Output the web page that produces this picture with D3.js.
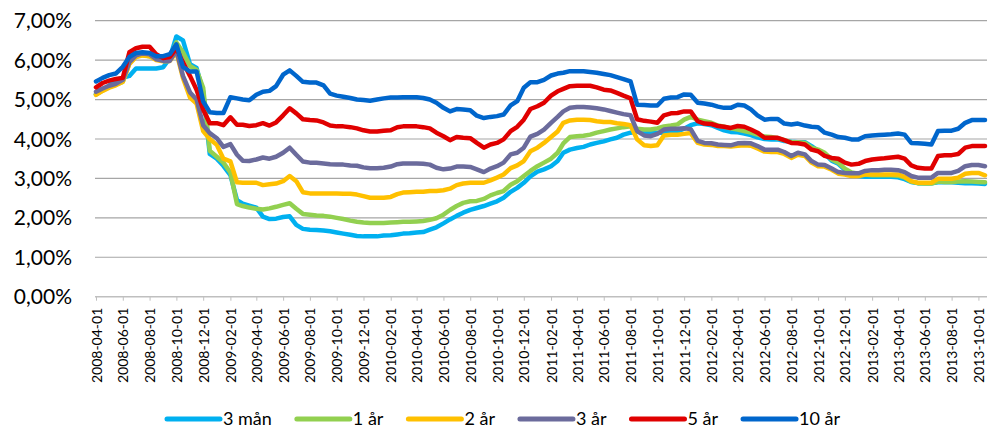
<!DOCTYPE html>
<html><head><meta charset="utf-8">
<script src="https://cdn.jsdelivr.net/npm/d3@7"></script>
<style>
html,body{margin:0;padding:0;background:#fff;}
svg{display:block;font-family:Lato,"Open Sans",sans-serif;}
</style></head>
<body>
<svg id="chart" width="988" height="431"></svg>
<script>
// Categories: half-monthly observation dates (1st and 16th of each month), 2008-04-01 .. 2013-10-16
const nPoints = 134;
const dates = d3.range(nPoints).map(i => new Date(Date.UTC(2008, 3 + Math.floor(i / 2), i % 2 ? 16 : 1)));

// Tick labels on the x axis (every second month)
const tickDates = d3.utcMonth.range(new Date(Date.UTC(2008, 3, 1)), new Date(Date.UTC(2013, 10, 1)), 2);
const yTicks = [0, 1, 2, 3, 4, 5, 6, 7];

const seriesNames = ["3 mån", "1 år", "2 år", "3 år", "5 år", "10 år"];

// Series values (%)
const tre_man = [
 5.13,5.25,5.35,5.50,5.55,5.60,5.79,5.79,5.79,5.79,5.82,6.05,6.60,
 6.50,5.90,5.80,5.20,3.62,3.50,3.32,3.08,2.45,
 2.36,2.31,2.26,2.03,1.97,1.98,2.02,2.04,1.82,1.72,1.70,1.69,1.68,1.66,1.63,1.60,1.57,1.54,1.53,1.53,1.53,1.55,1.56,
 1.58,1.60,1.61,1.63,1.64,1.70,1.76,1.86,1.96,2.05,2.13,2.20,2.25,2.30,2.36,2.42,2.51,2.66,2.76,2.89,3.05,3.17,
 3.23,3.31,3.44,3.65,3.73,3.77,3.80,3.86,3.90,3.94,3.99,4.03,4.11,4.16,4.19,4.16,4.16,4.16,4.16,4.17,4.19,4.26,
 4.35,4.40,4.38,4.35,4.28,4.22,4.18,4.17,4.14,4.10,4.04,4.00,3.99,3.99,3.95,3.93,3.92,3.92,3.82,3.70,3.62,3.45,3.37,
 3.22,3.12,3.06,3.04,3.04,3.04,3.04,3.04,3.03,2.98,2.91,2.88,2.88,2.88,2.90,2.90,2.90,2.89,2.88,2.88,2.87,2.86];
const ett_ar = [
 5.13,5.23,5.32,5.38,5.45,5.92,6.10,6.13,6.10,6.02,6.00,6.05,6.45,
 6.20,5.85,5.75,5.30,3.70,3.55,3.40,3.15,2.35,
 2.30,2.26,2.23,2.21,2.24,2.28,2.33,2.37,2.23,2.10,2.08,2.06,2.05,2.03,2.00,1.97,1.93,1.90,1.88,1.87,1.87,1.87,1.88,
 1.89,1.90,1.90,1.91,1.92,1.95,1.99,2.08,2.20,2.30,2.38,2.42,2.43,2.48,2.57,2.63,2.68,2.84,2.93,3.06,3.19,3.31,
 3.40,3.50,3.65,3.89,4.05,4.07,4.08,4.11,4.16,4.20,4.24,4.27,4.30,4.32,4.26,4.24,4.24,4.27,4.32,4.34,4.37,4.49,
 4.56,4.49,4.45,4.41,4.34,4.31,4.27,4.24,4.20,4.16,4.11,4.06,4.05,4.02,3.97,3.92,3.92,3.90,3.78,3.73,3.65,3.48,3.40,
 3.25,3.15,3.12,3.10,3.08,3.08,3.08,3.08,3.07,3.02,2.92,2.88,2.87,2.87,2.92,2.91,2.91,2.92,2.93,2.92,2.91,2.90];
const tva_ar = [
 5.12,5.22,5.30,5.36,5.45,5.90,6.08,6.12,6.10,6.00,5.97,5.98,6.20,
 5.55,5.05,4.90,4.20,4.00,3.85,3.50,3.43,2.90,
 2.89,2.89,2.89,2.83,2.85,2.87,2.93,3.06,2.93,2.65,2.62,2.62,2.62,2.62,2.62,2.61,2.61,2.59,2.55,2.51,2.51,2.51,2.53,
 2.60,2.64,2.65,2.66,2.66,2.68,2.68,2.70,2.74,2.83,2.87,2.89,2.89,2.89,2.95,3.02,3.10,3.26,3.33,3.44,3.69,3.78,
 3.90,4.05,4.19,4.41,4.47,4.49,4.49,4.48,4.45,4.43,4.43,4.40,4.38,4.35,3.99,3.84,3.82,3.84,4.09,4.11,4.11,4.13,
 4.15,3.90,3.86,3.85,3.82,3.82,3.81,3.83,3.84,3.83,3.76,3.68,3.67,3.67,3.62,3.52,3.60,3.57,3.40,3.31,3.30,3.22,3.12,
 3.10,3.06,3.06,3.10,3.10,3.10,3.10,3.10,3.10,3.04,2.93,2.89,2.89,2.89,2.99,2.99,2.99,3.02,3.12,3.14,3.14,3.08];
const tre_ar = [
 5.20,5.28,5.35,5.40,5.50,5.95,6.12,6.17,6.15,6.02,5.98,5.98,6.25,
 5.60,5.18,5.00,4.35,4.15,4.02,3.80,3.87,3.60,
 3.45,3.44,3.48,3.53,3.50,3.55,3.65,3.78,3.60,3.43,3.40,3.40,3.38,3.36,3.35,3.35,3.33,3.32,3.28,3.26,3.26,3.27,3.30,
 3.36,3.38,3.38,3.38,3.37,3.35,3.27,3.23,3.25,3.30,3.30,3.29,3.23,3.16,3.25,3.31,3.40,3.61,3.65,3.78,4.06,4.13,
 4.24,4.41,4.56,4.70,4.79,4.81,4.81,4.80,4.78,4.75,4.71,4.67,4.63,4.60,4.20,4.09,4.07,4.13,4.24,4.26,4.26,4.27,
 4.25,3.95,3.90,3.89,3.86,3.85,3.84,3.89,3.90,3.89,3.82,3.73,3.73,3.73,3.67,3.57,3.65,3.61,3.44,3.35,3.34,3.25,3.16,
 3.14,3.13,3.13,3.19,3.21,3.21,3.22,3.22,3.21,3.16,3.06,3.02,3.02,3.02,3.14,3.14,3.14,3.19,3.31,3.34,3.34,3.31];
const fem_ar = [
 5.31,5.42,5.48,5.52,5.55,6.20,6.30,6.34,6.34,6.15,6.05,6.08,6.30,
 5.95,5.60,5.25,4.75,4.40,4.40,4.35,4.55,4.36,
 4.36,4.33,4.35,4.40,4.34,4.42,4.60,4.78,4.65,4.50,4.48,4.47,4.42,4.34,4.32,4.32,4.30,4.27,4.22,4.19,4.19,4.21,4.22,
 4.30,4.32,4.32,4.32,4.30,4.27,4.16,4.07,3.97,4.05,4.03,4.02,3.90,3.78,3.86,3.90,3.99,4.20,4.31,4.49,4.76,4.83,
 4.92,5.10,5.21,5.27,5.34,5.35,5.35,5.35,5.31,5.25,5.23,5.17,5.10,5.03,4.50,4.46,4.44,4.41,4.60,4.65,4.66,4.70,
 4.70,4.45,4.39,4.38,4.33,4.31,4.28,4.33,4.31,4.24,4.16,4.03,4.03,4.03,3.97,3.90,3.89,3.86,3.73,3.69,3.57,3.52,3.50,
 3.40,3.35,3.37,3.44,3.48,3.50,3.51,3.53,3.55,3.50,3.33,3.27,3.25,3.25,3.57,3.59,3.59,3.62,3.78,3.82,3.82,3.82];
const tio_ar = [
 5.46,5.55,5.62,5.66,5.83,6.08,6.18,6.20,6.18,6.10,6.10,6.15,6.40,
 5.83,5.71,5.71,4.95,4.68,4.66,4.66,5.06,5.03,
 5.00,4.98,5.12,5.20,5.22,5.34,5.63,5.74,5.60,5.45,5.43,5.43,5.36,5.15,5.10,5.07,5.04,5.00,4.99,4.97,5.00,5.03,5.05,
 5.05,5.06,5.06,5.06,5.04,5.00,4.92,4.79,4.70,4.76,4.75,4.73,4.59,4.53,4.56,4.58,4.62,4.85,4.96,5.30,5.44,5.44,
 5.50,5.61,5.66,5.68,5.72,5.72,5.72,5.70,5.68,5.65,5.62,5.57,5.52,5.46,4.87,4.86,4.85,4.85,5.02,5.05,5.06,5.13,
 5.12,4.92,4.90,4.87,4.82,4.79,4.79,4.87,4.85,4.75,4.60,4.49,4.51,4.51,4.39,4.37,4.39,4.34,4.31,4.30,4.16,4.11,4.05,
 4.03,3.99,3.99,4.07,4.09,4.10,4.11,4.12,4.14,4.11,3.90,3.89,3.88,3.86,4.20,4.21,4.21,4.26,4.41,4.48,4.48,4.48];

const seriesValues = [tre_man, ett_ar, tva_ar, tre_ar, fem_ar, tio_ar];
const colors = ["#00B0F0", "#92D050", "#FFC000", "#6B6B9C", "#E00000", "#0066CC"];

const svg = d3.select("#chart");
const plotL = 95, plotR = 987;

const x = d3.scaleUtc()
  .domain([dates[0], dates[dates.length - 1]])
  .range([96, 985]);
const y = d3.scaleLinear().domain([0, 7]).range([296.7, 20.7]);

// gridlines
svg.append("g").selectAll("line").data(yTicks.filter(d => d > 0)).join("line")
  .attr("x1", plotL).attr("x2", plotR)
  .attr("y1", d => y(d)).attr("y2", d => y(d))
  .attr("stroke", "#a6a6a6").attr("stroke-width", 1.2);

// y axis labels
const fmt = v => v.toFixed(2).replace(".", ",") + "%";
svg.append("g").selectAll("text").data(yTicks).join("text")
  .attr("x", 72).attr("y", d => y(d))
  .attr("dy", "0.36em")
  .attr("text-anchor", "end")
  .attr("font-size", 21)
  .attr("fill", "#000")
  .text(fmt);

// x axis
const xAxis = d3.axisBottom(x).tickValues(tickDates).tickSize(4).tickFormat(d3.utcFormat("%Y-%m-%d"));
const gx = svg.append("g").attr("transform", `translate(0,${y(0)})`).call(xAxis);
gx.select(".domain").remove();
gx.append("line").attr("x1", plotL).attr("x2", plotR).attr("y1", 0).attr("y2", 0)
  .attr("stroke", "#bfbfbf").attr("stroke-width", 1.6);
gx.selectAll(".tick line").attr("stroke", "#bfbfbf");
gx.selectAll(".tick text")
  .attr("font-family", "Lato, sans-serif")
  .attr("font-size", 14)
  .attr("fill", "#000")
  .attr("transform", "rotate(-90)")
  .attr("text-anchor", "end")
  .attr("x", -11).attr("y", 0).attr("dy", "0.36em");

// lines
const line = d3.line().x((d, i) => x(dates[i])).y(d => y(d));
svg.append("g").selectAll("path").data(seriesValues).join("path")
  .attr("d", d => line(d))
  .attr("fill", "none")
  .attr("stroke", (d, i) => colors[i])
  .attr("stroke-width", 4.5)
  .attr("stroke-linejoin", "round")
  .attr("stroke-linecap", "round");

// legend
const lg = svg.append("g");
let cx = 167;
const ly = 419;
seriesNames.forEach((name, i) => {
  lg.append("line").attr("x1", cx).attr("x2", cx + 53).attr("y1", ly).attr("y2", ly)
    .attr("stroke", colors[i]).attr("stroke-width", 5).attr("stroke-linecap", "round");
  const t = lg.append("text").attr("x", cx + 56).attr("y", ly).attr("dy", "0.36em")
    .attr("font-size", 18).attr("fill", "#000").text(name);
  const w = t.node().getComputedTextLength();
  cx = cx + 56 + w + 25;
});
</script>
</body></html>
